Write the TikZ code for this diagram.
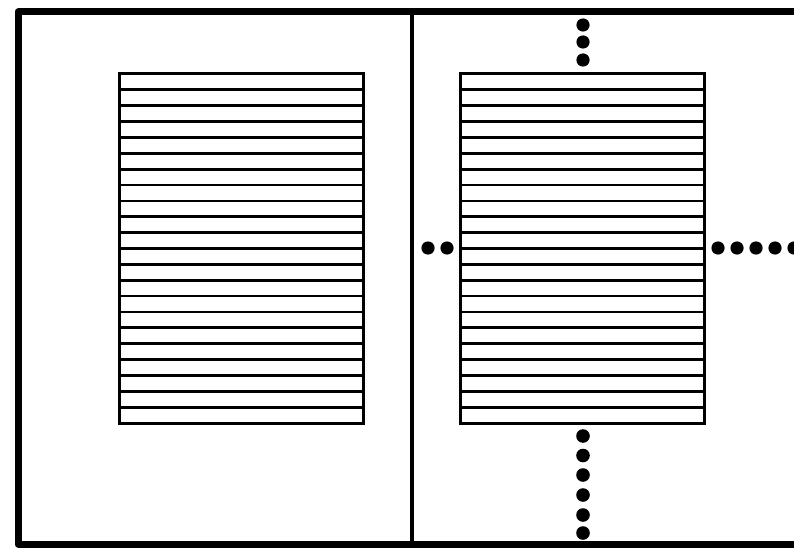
\documentclass[tikz,border=0pt]{standalone}
\usepackage{tikz}
\usetikzlibrary{calc}

\begin{document}
\begin{tikzpicture}[
  x=1pt, y=-1pt,
  frame/.style={line width=7pt, line join=round},
  divider/.style={line width=4.2pt},
  slat/.style={line width=2.8pt},
  blind/.style={line width=3pt},
  dotfill/.style={fill=black}
]
\useasboundingbox (0,0) rectangle (794,548);
% outer frame, open on the right
\draw[frame] (830,12) -- (18,12) -- (18,544) -- (830,544);
\draw[divider] (412,12) -- (412,544);

% two striped panels
\foreach \bx in {119,460}{
  \foreach \i in {1,...,21}
    \draw[slat] (\bx,{74+\i*349/22}) -- +(244,0);
  \draw[blind] (\bx,74) rectangle +(244,349);
}

% dotted marks around the right panel
\foreach \yy in {25,42,60}
  \fill[dotfill] (583,\yy) circle (6.6);
\foreach \yy in {436,455.5,475,495,515,533}
  \fill[dotfill] (583,\yy) circle (6.8);
\foreach \xx in {428,447}
  \fill[dotfill] (\xx,248) circle (6.6);
\foreach \xx in {718,737,756,775,794}
  \fill[dotfill] (\xx,248) circle (6.6);
\end{tikzpicture}
\end{document}
